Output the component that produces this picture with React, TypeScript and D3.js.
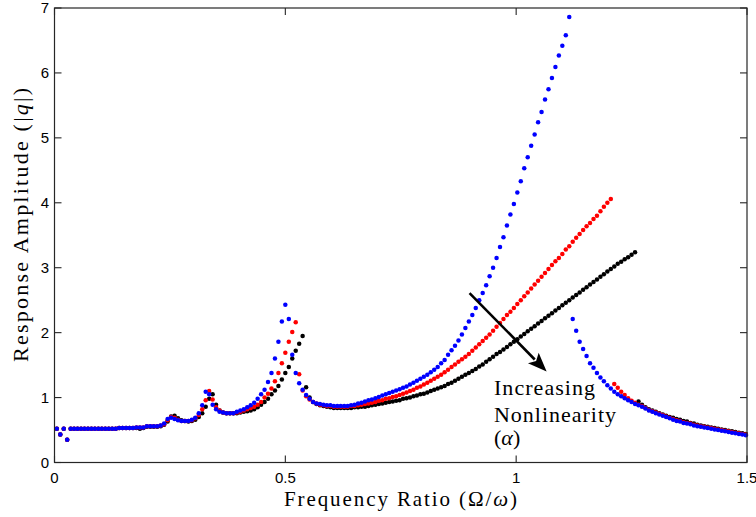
import React, { useEffect, useRef } from 'react';
import * as d3 from 'd3';

// Frequency sweep sampling (Ω/ω) : x_i = FREQ_START + i * FREQ_STEP, i = 0..199
const FREQ_START = 0.005;
const FREQ_STEP = 0.0075;

// Response amplitude |q|, one value per sweep sample
const blackAmp = [
  0.52, 0.43, 0.52, 0.35,
  0.52, 0.52, 0.52, 0.52, 0.52, 0.52, 0.52, 0.52, 0.52, 0.52, 0.52, 0.52, 0.52, 0.52,
  0.53, 0.53, 0.53, 0.53, 0.53,
  0.53, 0.52, 0.53,
  0.55, 0.55, 0.55, 0.55,
  0.56,
  0.58, 0.63, 0.71, 0.72, 0.68, 0.65, 0.64, 0.63, 0.64, 0.66, 0.70, 0.76, 0.86, 0.98, 1.05, 0.89, 0.80, 0.77, 0.76, 0.76, 0.76, 0.76, 0.77, 0.78, 0.79,
  0.80, 0.82, 0.85, 0.89, 0.93, 0.98, 1.05, 1.11, 1.18, 1.28, 1.38, 1.47, 1.60, 1.72, 1.83, 1.95, 1.16,
  1.00, 0.93, 0.90, 0.88, 0.87, 0.86, 0.85, 0.84, 0.84, 0.84, 0.84, 0.84, 0.84, 0.85, 0.85, 0.86, 0.86, 0.87, 0.88, 0.89, 0.90, 0.91, 0.92, 0.93, 0.94, 0.95, 0.96,
  0.98, 0.99, 1.00, 1.02, 1.03, 1.05, 1.06, 1.08, 1.10, 1.12,
  1.14, 1.16, 1.18, 1.21, 1.23, 1.26, 1.29, 1.32, 1.35, 1.38,
  1.41, 1.44, 1.48, 1.51, 1.55, 1.59, 1.63, 1.67, 1.70, 1.74,
  1.78, 1.82, 1.86, 1.90, 1.94, 1.98, 2.02, 2.06, 2.10, 2.14,
  2.18, 2.22, 2.26, 2.30, 2.34, 2.38, 2.42, 2.46, 2.50, 2.54,
  2.58, 2.62, 2.66, 2.70, 2.74, 2.78, 2.82, 2.86, 2.90, 2.94,
  2.98, 3.02, 3.06, 3.09, 3.13, 3.16, 3.20, 3.24,
  0.94, 0.89, 0.85, 0.82, 0.80, 0.78, 0.76, 0.74, 0.72, 0.70,
  0.69, 0.67, 0.66, 0.64, 0.63, 0.61, 0.60, 0.58, 0.57, 0.56,
  0.55, 0.54, 0.53, 0.52, 0.51, 0.50, 0.49, 0.48, 0.47, 0.46,
  0.45, 0.44,
];

const redAmp = [
  0.52, 0.43, 0.52, 0.35,
  0.52, 0.52, 0.52, 0.52, 0.52, 0.52, 0.52, 0.52, 0.52, 0.52, 0.52, 0.52, 0.52, 0.52,
  0.53, 0.53, 0.53, 0.53, 0.53,
  0.54, 0.54, 0.54,
  0.56, 0.56, 0.56, 0.56,
  0.57,
  0.59, 0.65, 0.70, 0.69, 0.66, 0.64, 0.64, 0.64, 0.65, 0.68, 0.73, 0.82, 0.96, 1.10, 0.97, 0.85, 0.80, 0.77, 0.76, 0.76, 0.76, 0.77, 0.78, 0.80, 0.82,
  0.84, 0.86, 0.89, 0.93, 1.00, 1.06, 1.14, 1.25, 1.38, 1.53, 1.69, 1.86, 2.01, 2.16, 1.36, 1.11, 1.02,
  0.97, 0.93, 0.91, 0.89, 0.88, 0.87, 0.87, 0.86, 0.86, 0.86, 0.86, 0.86, 0.87, 0.87, 0.88, 0.89, 0.90, 0.91, 0.92, 0.93, 0.95, 0.96, 0.98, 0.99, 1.01, 1.02, 1.04,
  1.06, 1.08, 1.10, 1.12, 1.15, 1.17, 1.20, 1.23, 1.26, 1.29,
  1.32, 1.35, 1.39, 1.43, 1.47, 1.51, 1.55, 1.59, 1.63, 1.67,
  1.72, 1.77, 1.82, 1.87, 1.92, 1.97, 2.03, 2.09, 2.15, 2.21,
  2.27, 2.32, 2.38, 2.44, 2.50, 2.56, 2.62, 2.68, 2.74, 2.80,
  2.86, 2.92, 2.98, 3.04, 3.10, 3.15, 3.21, 3.28, 3.33, 3.40,
  3.46, 3.52, 3.58, 3.64, 3.69, 3.75, 3.80, 3.87, 3.94, 4.00, 4.06,
  1.21, 1.15, 1.09, 1.04, 0.99, 0.95, 0.92, 0.89, 0.87, 0.84,
  0.81, 0.79, 0.77, 0.75, 0.73, 0.71, 0.69, 0.67, 0.65, 0.64,
  0.62, 0.61, 0.60, 0.58, 0.57, 0.56, 0.55, 0.54, 0.53, 0.52,
  0.51, 0.50, 0.49, 0.48, 0.47, 0.46, 0.45, 0.44, 0.43,
];

const blueAmp = [
  0.52, 0.43, 0.52, 0.35,
  0.52, 0.52, 0.52, 0.52, 0.52, 0.52, 0.52, 0.52, 0.52, 0.52, 0.52, 0.52, 0.52, 0.52,
  0.53, 0.53, 0.53, 0.53, 0.53,
  0.54, 0.54, 0.54,
  0.56, 0.56, 0.56, 0.56,
  0.57,
  0.60, 0.67, 0.69, 0.67, 0.65, 0.64, 0.64, 0.64, 0.66, 0.69, 0.76, 0.88, 1.09, 1.05, 0.89, 0.82, 0.78, 0.77, 0.76, 0.76, 0.76, 0.78, 0.80, 0.82, 0.85,
  0.88, 0.92, 0.98, 1.05, 1.12, 1.24, 1.38, 1.60, 1.86, 2.17, 2.43, 2.21, 1.66, 1.38, 1.22, 1.12, 1.04,
  0.98, 0.93, 0.91, 0.90, 0.89, 0.88, 0.88, 0.87, 0.87, 0.87, 0.87, 0.87, 0.88, 0.89, 0.91, 0.92, 0.94, 0.96, 0.97, 0.99, 1.01, 1.03, 1.05, 1.07, 1.09, 1.11, 1.13,
  1.15, 1.17, 1.20, 1.23, 1.26, 1.29, 1.32, 1.35, 1.39, 1.43,
  1.47, 1.53, 1.58, 1.66, 1.73, 1.80, 1.88, 1.97, 2.07, 2.17,
  2.27, 2.38, 2.50, 2.61, 2.73, 2.87, 3.00, 3.15, 3.32, 3.47,
  3.65, 3.82, 3.98, 4.16, 4.33, 4.53, 4.70, 4.88, 5.05, 5.24,
  5.40, 5.59, 5.75, 5.92, 6.09, 6.27, 6.42, 6.58, 6.86,
  2.21, 2.03, 1.86, 1.75, 1.64, 1.53, 1.46, 1.38, 1.31, 1.25,
  1.19, 1.14, 1.09, 1.05, 1.02, 0.99, 0.96, 0.93, 0.90, 0.88,
  0.86, 0.83, 0.80, 0.78, 0.76, 0.74, 0.72, 0.70, 0.68, 0.66,
  0.64, 0.63, 0.61, 0.60, 0.59, 0.57, 0.56, 0.55, 0.54, 0.53,
  0.52, 0.51, 0.50, 0.49, 0.48, 0.47, 0.46, 0.45, 0.44, 0.43,
  0.42,
];

const seriesOrder = [
  { name: 'black', values: blackAmp, color: '#000000' },
  { name: 'red', values: redAmp, color: '#ff0000' },
  { name: 'blue', values: blueAmp, color: '#0000ff' },
];

const xTicks = [0, 0.5, 1, 1.5];
const yTicks = [0, 1, 2, 3, 4, 5, 6, 7];

// annotation arrow (data coordinates)
const arrowFrom = [0.899, 2.61];
const arrowTo = [1.066, 1.40];
const annotationLines = ['Increasing', 'Nonlinearity'];

const W = 756;
const H = 517;
const PLOT = { left: 54.5, right: 747, top: 8, bottom: 462.5 };

export default function App() {
  const ref = useRef<SVGSVGElement | null>(null);

  useEffect(() => {
    const svg = d3.select(ref.current);
    svg.selectAll('*').remove();

    const x = d3.scaleLinear().domain([0, 1.5]).range([PLOT.left, PLOT.right]);
    const y = d3.scaleLinear().domain([0, 7]).range([PLOT.bottom, PLOT.top]);
    const axisColor = '#262626';
    const tickLen = 7;

    svg.append('rect').attr('width', W).attr('height', H).attr('fill', '#fff');

    // data dots
    seriesOrder.forEach((s) => {
      const pts = s.values.map((v, i) => [FREQ_START + i * FREQ_STEP, v]);
      svg
        .append('g')
        .selectAll('circle')
        .data(pts)
        .join('circle')
        .attr('cx', (d) => x(d[0]))
        .attr('cy', (d) => y(d[1]))
        .attr('r', 2.25)
        .attr('fill', s.color);
    });

    // frame
    svg
      .append('rect')
      .attr('x', PLOT.left)
      .attr('y', PLOT.top)
      .attr('width', PLOT.right - PLOT.left)
      .attr('height', PLOT.bottom - PLOT.top)
      .attr('fill', 'none')
      .attr('stroke', axisColor)
      .attr('stroke-width', 1.2);

    const g = svg.append('g');
    xTicks.forEach((t) => {
      const px = x(t);
      g.append('line').attr('x1', px).attr('x2', px).attr('y1', PLOT.bottom).attr('y2', PLOT.bottom - tickLen).attr('stroke', axisColor).attr('stroke-width', 1.1);
      g.append('line').attr('x1', px).attr('x2', px).attr('y1', PLOT.top).attr('y2', PLOT.top + tickLen).attr('stroke', axisColor).attr('stroke-width', 1.1);
      g.append('text')
        .attr('x', px)
        .attr('y', 483)
        .attr('text-anchor', 'middle')
        .attr('font-family', '"Liberation Sans", Arial, Helvetica, sans-serif')
        .attr('font-size', 15)
        .attr('fill', '#000')
        .text(String(t));
    });
    yTicks.forEach((t) => {
      const py = y(t);
      g.append('line').attr('x1', PLOT.left).attr('x2', PLOT.left + tickLen).attr('y1', py).attr('y2', py).attr('stroke', axisColor).attr('stroke-width', 1.1);
      g.append('line').attr('x1', PLOT.right).attr('x2', PLOT.right - tickLen).attr('y1', py).attr('y2', py).attr('stroke', axisColor).attr('stroke-width', 1.1);
      g.append('text')
        .attr('x', 49)
        .attr('y', py + 5.3)
        .attr('text-anchor', 'end')
        .attr('font-family', '"Liberation Sans", Arial, Helvetica, sans-serif')
        .attr('font-size', 15)
        .attr('fill', '#000')
        .text(String(t));
    });

    const serif = '"Liberation Serif", "Times New Roman", serif';

    // x label
    const xl = svg
      .append('text')
      .attr('x', 400.5)
      .attr('y', 505.5)
      .attr('text-anchor', 'middle')
      .attr('font-family', serif)
      .attr('font-size', 21)
      .attr('textLength', 233)
      .attr('lengthAdjust', 'spacing')
      .attr('fill', '#000');
    xl.append('tspan').text('Frequency Ratio (Ω/');
    xl.append('tspan').attr('font-style', 'italic').text('ω');
    xl.append('tspan').text(')');

    // y label
    const yl = svg
      .append('text')
      .attr('transform', 'translate(28,225) rotate(-90)')
      .attr('text-anchor', 'middle')
      .attr('font-family', serif)
      .attr('font-size', 22)
      .attr('textLength', 274)
      .attr('lengthAdjust', 'spacing')
      .attr('fill', '#000');
    yl.append('tspan').text('Response Amplitude (|');
    yl.append('tspan').attr('font-style', 'italic').text('q');
    yl.append('tspan').text('|)');

    // arrow
    const x0 = x(arrowFrom[0]);
    const y0 = y(arrowFrom[1]);
    const x1 = x(arrowTo[0]);
    const y1 = y(arrowTo[1]);
    const dx = x1 - x0;
    const dy = y1 - y0;
    const len = Math.hypot(dx, dy);
    const ux = dx / len;
    const uy = dy / len;
    const headLen = 19;
    const headHalf = 7.5;
    const bx = x1 - ux * headLen;
    const by = y1 - uy * headLen;
    svg.append('line').attr('x1', x0).attr('y1', y0).attr('x2', bx + ux * 2).attr('y2', by + uy * 2).attr('stroke', '#000').attr('stroke-width', 2.6);
    svg
      .append('path')
      .attr('d', `M${x1},${y1}L${bx - uy * headHalf},${by + ux * headHalf}L${bx + ux * 4},${by + uy * 4}L${bx + uy * headHalf},${by - ux * headHalf}Z`)
      .attr('fill', '#000');

    // annotation text
    const annWidths = [101, 122];
    const annBase = [395, 422];
    annotationLines.forEach((s, i) => {
      svg
        .append('text')
        .attr('x', 494)
        .attr('y', annBase[i])
        .attr('font-family', serif)
        .attr('font-size', 22)
        .attr('textLength', annWidths[i])
        .attr('lengthAdjust', 'spacing')
        .attr('fill', '#000')
        .text(s);
    });
    const al = svg
      .append('text')
      .attr('x', 494)
      .attr('y', 445)
      .attr('font-family', serif)
      .attr('font-size', 22)
      .attr('fill', '#000');
    al.append('tspan').text('(');
    al.append('tspan').attr('font-style', 'italic').text('α');
    al.append('tspan').text(')');
  }, []);

  return (
    <svg
      ref={ref}
      width={W}
      height={H}
      style={{ position: 'absolute', left: 0, top: 0, display: 'block' }}
    />
  );
}
